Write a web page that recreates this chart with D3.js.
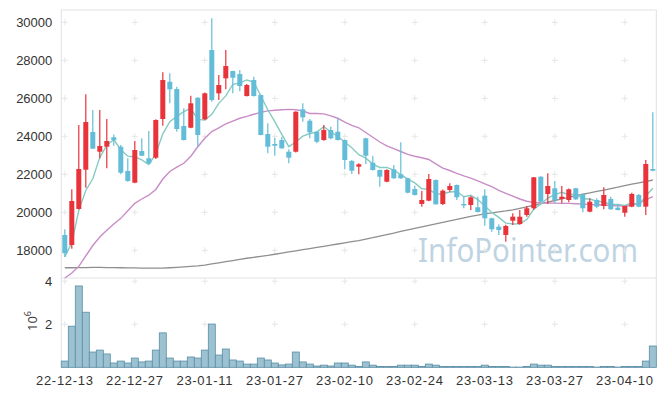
<!DOCTYPE html>
<html>
<head>
<meta charset="utf-8">
<script src="https://cdn.jsdelivr.net/npm/d3@7"></script>
<style>
	body { margin: 0; background: #fff; }
	svg { display: block; font-family: "Open Sans", "Noto Sans", sans-serif; }
	.tick text { fill: #333; font-size: 13px; }
	.x-axis .tick text { letter-spacing: 0.7px; }
</style>
</head>
<body>
<svg class="stock-chart" width="665" height="396"></svg>
<script>
// trading days (yy-mm-dd)
var dates = [
	"22-12-13","22-12-14","22-12-15","22-12-16","22-12-19","22-12-20","22-12-21","22-12-22","22-12-23","22-12-26",
	"22-12-27","22-12-28","22-12-29","23-01-02","23-01-03","23-01-04","23-01-05","23-01-06","23-01-09","23-01-10",
	"23-01-11","23-01-12","23-01-13","23-01-16","23-01-17","23-01-18","23-01-19","23-01-20","23-01-25","23-01-26",
	"23-01-27","23-01-30","23-01-31","23-02-01","23-02-02","23-02-03","23-02-06","23-02-07","23-02-08","23-02-09",
	"23-02-10","23-02-13","23-02-14","23-02-15","23-02-16","23-02-17","23-02-20","23-02-21","23-02-22","23-02-23",
	"23-02-24","23-02-27","23-02-28","23-03-02","23-03-03","23-03-06","23-03-07","23-03-08","23-03-09","23-03-10",
	"23-03-13","23-03-14","23-03-15","23-03-16","23-03-17","23-03-20","23-03-21","23-03-22","23-03-23","23-03-24",
	"23-03-27","23-03-28","23-03-29","23-03-30","23-03-31","23-04-03","23-04-04","23-04-05","23-04-06","23-04-07",
	"23-04-10","23-04-11","23-04-12","23-04-13","23-04-14"
];

var opens = [
	18805,18279,20174,22242,24226,23189,23453,23950,23453,22174,
	21558,23226,22842,22874,24910,26873,26489,24542,24452,26031,
	24895,28542,26263,27052,27437,27279,26121,26963,26173,24121,
	23595,23805,23189,23189,25421,24821,24242,23805,24331,24242,
	23805,22700,22400,23895,22610,22226,21610,22263,22000,21789,
	21226,20437,20610,21700,20437,21174,21437,20437,20384,20263,
	20874,19684,19242,18805,19558,19384,19858,20210,21874,20963,
	21263,20700,20647,21263,20947,20032,20647,20332,20700,20242,
	19979,20295,20910,20295,22279
];
var highs = [
	19105,21210,24595,26210,25384,25384,24910,24100,23542,22842,
	23753,23895,24279,24900,27368,27316,26610,25474,26137,26050,
	26300,30210,27226,28542,27450,27489,26750,27137,26200,24684,
	23926,23980,23316,25320,25737,24910,24260,24595,24505,24947,
	23830,22750,22580,23920,22979,22250,22260,22489,23684,21820,
	21400,21121,22016,21720,21200,21526,21460,20858,20858,20821,
	21210,19710,19368,19350,19947,20121,20332,21860,21900,22053,
	21647,21384,21250,21290,20970,20737,20737,21316,20821,20437,
	20350,21032,20963,22752,25263
];
var lows = [
	17647,18084,20150,21295,23340,22842,22316,23500,22000,21610,
	21526,22950,22540,22800,24558,25737,24242,23780,24420,23453,
	24850,25821,25910,26473,26263,26368,26100,26100,24050,23105,
	22979,23350,22579,23150,24768,23895,23630,23770,23850,23780,
	22263,22016,22000,22542,22200,21347,21580,21760,21760,21000,
	20880,20295,20580,20400,20380,21084,20647,20210,20121,19990,
	19295,18979,18805,18453,19332,19350,19768,20121,20530,20437,
	20474,20474,20526,20650,20000,20000,20210,20158,20130,20100,
	19768,20270,20270,19858,22160
];
var closes = [
	17842,20595,22279,24752,23347,23489,23753,23800,22084,21647,
	23279,22979,22579,24858,26963,26473,24384,23805,25737,24068,
	26263,25910,26700,27700,27084,26647,26700,26121,24068,23453,
	23505,23368,22874,25295,25000,24210,23716,24331,23895,23805,
	22752,22189,22526,22979,22226,21874,22226,21789,21789,21031,
	20910,20647,21752,20421,21137,21384,20789,20368,20789,20016,
	19684,19105,19068,19279,19768,19768,20210,21842,20558,21384,
	20647,20821,21210,20684,20210,20558,20295,20910,20158,20121,
	20332,20963,20295,22542,22189
];
var volumes = [
	290000,1910000,3780000,2560000,710000,800000,620000,200000,290000,200000,
	430000,250000,290000,800000,1600000,430000,290000,290000,480000,430000,
	800000,2010000,570000,850000,340000,290000,150000,150000,430000,340000,
	200000,110000,150000,710000,250000,150000,60000,100000,60000,200000,
	200000,100000,40000,250000,100000,40000,40000,40000,100000,100000,
	100000,40000,150000,100000,40000,40000,40000,40000,40000,40000,
	100000,40000,40000,40000,10000,10000,40000,150000,100000,100000,
	40000,40000,40000,40000,40000,40000,10000,40000,40000,10000,
	40000,40000,40000,290000,990000
];

// moving averages
var ma5 = [
	17650,18400,20100,21150,21763,22892,23524,23828,23295,22955,
	22913,22758,22514,23068,24132,24770,25051,25297,25472,24893,
	24851,25157,25736,26128,26731,26808,26966,26850,26124,25398,
	24769,24103,23454,23699,24008,24149,24219,24510,24230,23991,
	23700,23394,23033,22850,22534,22359,22366,22219,21981,21742,
	21549,21233,21226,20952,20973,21068,21097,20820,20893,20669,
	20329,19992,19732,19430,19381,19398,19619,20173,20429,20752,
	20928,21050,20924,20949,20714,20697,20591,20531,20426,20408,
	20363,20497,20374,20851,21264
];
var ma20 = [
	16540,16800,17150,17700,18250,18700,19050,19380,19680,20080,
	20470,20700,20900,21200,21750,22150,22380,22580,22950,23450,
	23900,24250,24450,24650,24800,24950,25050,25160,25260,25340,
	25370,25400,25420,25400,25340,25200,25200,25180,25080,24950,
	24750,24580,24450,24200,23950,23700,23500,23350,23200,23050,
	22950,22870,22780,22550,22320,22200,22050,21920,21800,21650,
	21500,21350,21150,21000,20850,20700,20580,20520,20500,20490,
	20480,20470,20470,20450,20430,20410,20400,20380,20360,20340,
	20330,20370,20480,20650,20820
];
var ma120 = [
	17080,17080,17085,17090,17095,17095,17090,17085,17080,17075,
	17070,17065,17060,17055,17060,17080,17100,17125,17150,17180,
	17220,17280,17340,17400,17460,17520,17580,17630,17680,17730,
	17790,17850,17910,17970,18030,18090,18150,18210,18270,18330,
	18390,18450,18510,18590,18660,18740,18820,18900,18990,19070,
	19150,19230,19310,19390,19470,19550,19630,19710,19790,19850,
	19920,19970,20020,20070,20130,20210,20290,20370,20450,20540,
	20620,20710,20790,20870,20950,21020,21100,21170,21250,21320,
	21400,21480,21550,21620,21700
];

var priceTicks = [18000, 20000, 22000, 24000, 26000, 28000, 30000];
var volTicks = [2000000, 4000000];
var dateTicks = ["22-12-13","22-12-27","23-01-11","23-01-27","23-02-10","23-02-24","23-03-13","23-03-27","23-04-10"];

var box = {
	left: 61.3,
	right: 656.3,
	top: 10,
	split: 278,
	bottom: 367.3
};

var upColor = "#e8333a",
	downColor = "#63bdd8",
	gridColor = "#e2e2e2";

function renderStockChart() {

	var svg = d3.select(".stock-chart");

	var x = d3.scaleBand()
		.domain(dates)
		.range([box.left, box.right])
		.padding(0);

	var y = d3.scaleLinear()
		.domain([16540, 30650])
		.range([box.split, box.top]);

	var yv = d3.scaleLinear()
		.domain([0, 4150000])
		.range([box.bottom, box.split]);

	var cx = function(i) { return x(dates[i]) + x.bandwidth() / 2; };

	// watermark, under everything
	svg.append("text")
		.attr("x", 418)
		.attr("y", 262)
		.attr("textLength", 220)
		.attr("lengthAdjust", "spacingAndGlyphs")
		.style("font-family", "'Noto Sans', sans-serif")
		.style("font-size", "33px")
		.style("fill", "#bfd4e2")
		.text("InfoPointer.com");

	// frame
	var frame = svg.append("g").attr("class", "frame")
		.attr("stroke", gridColor)
		.attr("fill", "none");
	frame.append("rect")
		.attr("x", box.left)
		.attr("y", box.top)
		.attr("width", box.right - box.left)
		.attr("height", box.bottom - box.top);
	frame.append("line")
		.attr("x1", box.left).attr("x2", box.right)
		.attr("y1", box.split).attr("y2", box.split);

	// little crosses on the grid points
	var crossX = dateTicks.map(function(d) { return x(d) + x.bandwidth() / 2; });
	var crossY = priceTicks.map(function(d) { return y(d); })
		.concat(volTicks.map(function(d) { return yv(d); }));
	var crosses = svg.append("g").attr("class", "crosses")
		.attr("stroke", "#e6e6e6")
		.attr("stroke-width", 1);
	crossX.forEach(function(px) {
		crossY.forEach(function(py) {
			crosses.append("path")
				.attr("d", "M" + (px - 3) + "," + py + "H" + (px + 3) + "M" + px + "," + (py - 3) + "V" + (py + 3));
		});
	});

	// volume bars
	svg.append("g").attr("class", "volume")
		.selectAll("rect")
		.data(volumes)
		.enter().append("rect")
		.attr("x", function(d, i) { return x(dates[i]); })
		.attr("y", function(d) { return yv(d); })
		.attr("width", x.bandwidth())
		.attr("height", function(d) { return box.bottom - yv(d); })
		.attr("fill", "#9cc2d2")
		.attr("stroke", "#5a8ea7")
		.attr("stroke-width", 0.8);

	// moving averages
	function maLine(values, color, width) {
		var line = d3.line()
			.x(function(d, i) { return cx(i); })
			.y(function(d) { return y(d); });
		svg.append("path")
			.datum(values)
			.attr("d", line)
			.attr("fill", "none")
			.attr("stroke", color)
			.attr("stroke-width", width);
	}
	maLine(ma120, "#8f8f8f", 1.3);
	maLine(ma20, "#c98dc6", 1.4);
	maLine(ma5, "#86cbc2", 1.4);

	// candles
	var candles = svg.append("g").attr("class", "candles")
		.selectAll("g")
		.data(d3.range(dates.length))
		.enter().append("g")
		.attr("fill", function(i) { return closes[i] >= opens[i] ? upColor : downColor; })
		.attr("stroke", function(i) { return closes[i] >= opens[i] ? upColor : downColor; });

	candles.append("line")
		.attr("x1", cx).attr("x2", cx)
		.attr("y1", function(i) { return y(highs[i]); })
		.attr("y2", function(i) { return y(lows[i]); })
		.attr("stroke-width", 1.2);

	candles.append("rect")
		.attr("x", function(i) { return cx(i) - 2.5; })
		.attr("width", 5)
		.attr("y", function(i) { return y(Math.max(opens[i], closes[i])); })
		.attr("height", function(i) { return Math.max(1.5, Math.abs(y(opens[i]) - y(closes[i]))); })
		.attr("stroke", "none");

	// axes
	var yAxis = svg.append("g")
		.attr("transform", "translate(" + (box.left - 6) + ",0)")
		.call(d3.axisLeft(y).tickValues(priceTicks).tickSize(0).tickFormat(d3.format("d")));
	yAxis.select(".domain").remove();

	var vAxis = svg.append("g")
		.attr("transform", "translate(" + (box.left - 6) + ",0)")
		.call(d3.axisLeft(yv).tickValues(volTicks).tickSize(0).tickFormat(function(d) { return d / 1e6; }));
	vAxis.select(".domain").remove();

	var xAxis = svg.append("g")
		.attr("class", "x-axis")
		.attr("transform", "translate(0," + (box.bottom + 5) + ")")
		.call(d3.axisBottom(x).tickValues(dateTicks).tickSize(0));
	xAxis.select(".domain").remove();

	// 10^6 unit label
	var unit = svg.append("text")
		.attr("transform", "translate(37,321) rotate(-90)")
		.attr("text-anchor", "middle")
		.style("font-size", "13px")
		.style("fill", "#333");
	unit.append("tspan").text("10");
	unit.append("tspan")
		.attr("dy", -6)
		.style("font-size", "9px")
		.text("6");
}

renderStockChart();
</script>
</body>
</html>
